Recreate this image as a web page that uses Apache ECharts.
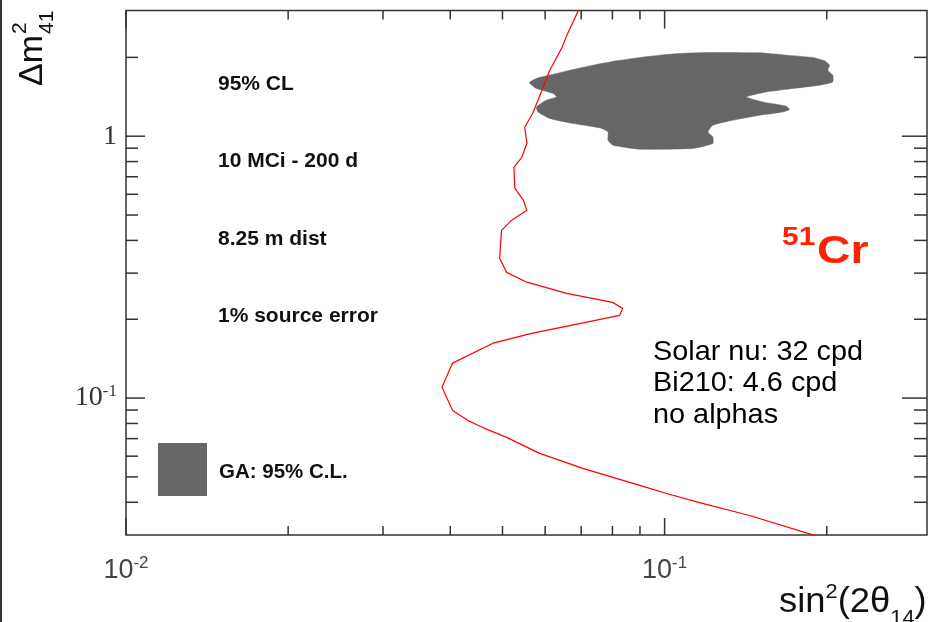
<!DOCTYPE html>
<html><head><meta charset="utf-8">
<script src="https://cdn.jsdelivr.net/npm/echarts@6/dist/echarts.min.js"></script>
<style>html,body{margin:0;padding:0;background:#fff}#c{width:930px;height:622px}</style>
</head><body><div id="c"></div>
<script>
// Axis ranges
const X_MIN = 0.01, X_MAX = 0.307, Y_MIN = 0.03, Y_MAX = 3.02;

// Sensitivity curve (red), sin^2(2theta) vs dm^2
const redCurveX = [0.0692,0.0661,0.0644,0.0612,0.0592,0.0569,0.0550,0.0555,0.0543,0.0525,0.0527,0.0547,0.0555,0.0520,0.0498,0.0494,0.0509,0.0555,0.0658,0.0801,0.0836,0.0825,0.0717,0.0569,0.0480,0.0404,0.0386,0.0404,0.0431,0.0450,0.0473,0.0509,0.0586,0.0705,0.0899,0.1009,0.1161,0.1438,0.1898];
const redCurveY = [3.03,2.475,2.169,1.787,1.499,1.224,1.082,0.940,0.831,0.761,0.633,0.569,0.521,0.478,0.437,0.342,0.302,0.277,0.251,0.232,0.220,0.207,0.195,0.177,0.162,0.136,0.110,0.0897,0.0822,0.0787,0.0753,0.0708,0.0615,0.0539,0.0464,0.0432,0.0399,0.0356,0.0299];

// GA 95% C.L. allowed region outline
const gaRegionX = [0.0562,0.0578,0.0612,0.0667,0.0736,0.0814,0.0899,0.0979,0.1066,0.1195,0.1501,0.1682,0.1884,0.1981,0.2024,0.2009,0.2052,0.2052,0.1940,0.1730,0.1544,0.1418,0.1522,0.1682,0.1706,0.1658,0.1501,0.1339,0.1229,0.1203,0.1229,0.1229,0.1128,0.0899,0.0802,0.0785,0.0785,0.0758,0.0676,0.0612,0.0582,0.0578,0.0603,0.0630,0.0621,0.0578,0.0562];
const gaRegionY = [1.612,1.662,1.711,1.787,1.867,1.940,1.998,2.039,2.070,2.088,2.081,2.039,1.998,1.940,1.867,1.787,1.711,1.612,1.566,1.521,1.476,1.413,1.352,1.302,1.265,1.238,1.203,1.151,1.102,1.038,0.994,0.938,0.898,0.892,0.924,0.965,1.038,1.076,1.118,1.169,1.238,1.294,1.373,1.413,1.456,1.521,1.590];

// Tick values
const xMajorTicks = [0.01, 0.1];
const xMinorTicks = [0.02,0.03,0.04,0.05,0.06,0.07,0.08,0.09,0.2];
const yMajorTicks = [0.1, 1];
const yMinorTicks = [0.04,0.05,0.06,0.07,0.08,0.09,0.2,0.3,0.4,0.5,0.6,0.7,0.8,0.9,2];

// Annotation texts
const infoLines = ['95% CL', '10 MCi - 200 d', '8.25 m dist', '1% source error'];
const bkgLines = ['Solar nu: 32 cpd', 'Bi210: 4.6 cpd', 'no alphas'];
const legendText = 'GA: 95% C.L.';

const ctx2 = document.createElement('canvas').getContext('2d');
function tw(t, size, weight) {
  ctx2.font = (weight || 'normal') + ' ' + size + 'px "Liberation Sans"';
  return ctx2.measureText(t).width;
}
function isDecade(v) { const l = Math.log10(v); return Math.abs(l - Math.round(l)) < 1e-6; }

const chart = echarts.init(document.getElementById('c'), null, {renderer: 'canvas'});

const graphic = [];
graphic.push({type: 'rect', shape: {x: 0, y: 0, width: 2, height: 622}, style: {fill: '#333'}, silent: true});
const infoY = [84, 161, 239, 316];
infoLines.forEach((t, i) => graphic.push({type: 'text', x: 218, y: infoY[i], style: {text: t, fontSize: 21, fontWeight: 'bold', fontFamily: 'Liberation Sans', fill: '#111', align: 'left', verticalAlign: 'middle'}}));
graphic.push({type: 'rect', shape: {x: 158, y: 443, width: 49, height: 53}, style: {fill: '#666666'}});
graphic.push({type: 'text', x: 219, y: 472, style: {text: legendText, fontSize: 20.5, fontWeight: 'bold', fontFamily: 'Liberation Sans', fill: '#111', align: 'left', verticalAlign: 'middle'}});
const bkgY = [352, 383.5, 415];
bkgLines.forEach((t, i) => graphic.push({type: 'text', x: 653, y: bkgY[i], scaleX: 1.03, style: {text: t, fontSize: 28, fontFamily: 'Liberation Sans', fill: '#000', align: 'left', verticalAlign: 'middle'}}));
// 51Cr
graphic.push({type: 'text', x: 782, y: 238, scaleX: 1.15, style: {text: '51', fontSize: 26, fontWeight: 'bold', fontFamily: 'Liberation Sans', fill: '#ff2200', align: 'left', verticalAlign: 'middle'}});
graphic.push({type: 'text', x: 817, y: 253, scaleX: 1.22, style: {text: 'Cr', fontSize: 38, fontWeight: 'bold', fontFamily: 'Liberation Sans', fill: '#ff2200', align: 'left', verticalAlign: 'middle'}});

// x-axis title sin^2(2θ14)
(function () {
  const pieces = [['sin', 35, 602], ['2', 21, 592], ['(2θ', 35, 602], ['14', 21, 618], [')', 35, 602]];
  let x = 779;
  pieces.forEach(p => {
    graphic.push({type: 'text', x: x, y: p[2], scaleX: 1.04, style: {text: p[0], fontSize: p[1], fontFamily: 'Liberation Sans', fill: '#111', align: 'left', verticalAlign: 'middle'}});
    x += tw(p[0], p[1]) * 1.04;
  });
})();
// y-axis title Δm^2_41 (rotated)
(function () {
  const L = tw('Δm', 34);
  graphic.push({type: 'text', x: 33, y: 86, rotation: Math.PI / 2, style: {text: 'Δm', fontSize: 34, fontFamily: 'Liberation Sans', fill: '#111', align: 'left', verticalAlign: 'middle'}});
  graphic.push({type: 'text', x: 20, y: 86 - L - 1, rotation: Math.PI / 2, style: {text: '2', fontSize: 21, fontFamily: 'Liberation Sans', fill: '#111', align: 'left', verticalAlign: 'middle'}});
  graphic.push({type: 'text', x: 47, y: 86 - L - 1, rotation: Math.PI / 2, style: {text: '41', fontSize: 21, fontFamily: 'Liberation Sans', fill: '#111', align: 'left', verticalAlign: 'middle'}});
})();

const TICK = {bottom: [17, 9], top: [18, 9], left: [19, 12], right: [25, 13]};
const tickStyle = {stroke: '#333', lineWidth: 1.5};

const option = {
  animation: false,
  backgroundColor: '#fff',
  grid: {left: 126, right: 2, top: 10.5, bottom: 87, show: true, borderColor: '#333', borderWidth: 1.5, backgroundColor: 'transparent'},
  xAxis: {
    type: 'log', logBase: 10, min: X_MIN, max: X_MAX,
    axisLine: {show: false}, axisTick: {show: false}, splitLine: {show: false},
    axisLabel: {
      margin: 20, showMinLabel: true, showMaxLabel: true,
      fontFamily: 'Liberation Sans', fontSize: 27, color: '#444',
      formatter: v => isDecade(v) ? '{b|10}{s|' + Math.round(Math.log10(v)) + '}' : '',
      rich: {
        b: {fontFamily: 'Liberation Sans', fontSize: 27, color: '#444', lineHeight: 31},
        s: {fontFamily: 'Liberation Sans', fontSize: 17, color: '#444', verticalAlign: 'top', lineHeight: 17}
      }
    }
  },
  yAxis: {
    type: 'log', logBase: 10, min: Y_MIN, max: Y_MAX,
    axisLine: {show: false}, axisTick: {show: false}, splitLine: {show: false},
    axisLabel: {
      margin: 9, showMinLabel: true, showMaxLabel: true,
      fontFamily: 'Liberation Serif', fontSize: 28, color: '#333',
      formatter: v => {
        if (!isDecade(v)) return '';
        const e = Math.round(Math.log10(v));
        return e === 0 ? '{b|1}' : '{b|10}{s|' + e + '}';
      },
      rich: {
        b: {fontFamily: 'Liberation Serif', fontSize: 28, color: '#333', lineHeight: 30},
        s: {fontFamily: 'Liberation Serif', fontSize: 17, color: '#333', verticalAlign: 'top', lineHeight: 17}
      }
    }
  },
  graphic: graphic,
  series: [
    {
      name: 'GA region', type: 'custom', silent: true, z: 2,
      data: gaRegionX.map((x, i) => [x, gaRegionY[i]]),
      renderItem: function (params, api) {
        if (params.dataIndex !== 0) return null;
        const pts = gaRegionX.map((x, i) => api.coord([x, gaRegionY[i]]));
        return {type: 'polygon', shape: {points: pts, smooth: 0.15}, style: {fill: '#666666', stroke: '#666666', lineWidth: 0.5}};
      }
    },
    {
      name: 'Cr51 sensitivity', type: 'line', z: 3, silent: true,
      data: redCurveX.map((x, i) => [x, redCurveY[i]]),
      showSymbol: false, symbol: 'none', smooth: false,
      lineStyle: {color: '#ff0000', width: 1.2}
    },
    {
      name: 'xticks', type: 'custom', silent: true, clip: false, z: 4,
      data: xMajorTicks.map(v => [v, Y_MIN, 1]).concat(xMinorTicks.map(v => [v, Y_MIN, 0])),
      encode: {x: 0, y: 1},
      renderItem: function (params, api) {
        const cs = params.coordSys;
        const px = api.coord([api.value(0), Y_MIN])[0];
        const m = api.value(2) === 1 ? 0 : 1;
        const yb = cs.y + cs.height, yt = cs.y;
        return {type: 'group', children: [
          {type: 'line', shape: {x1: px, y1: yb, x2: px, y2: yb - TICK.bottom[m]}, style: tickStyle},
          {type: 'line', shape: {x1: px, y1: yt, x2: px, y2: yt + TICK.top[m]}, style: tickStyle}
        ]};
      }
    },
    {
      name: 'yticks', type: 'custom', silent: true, clip: false, z: 4,
      data: yMajorTicks.map(v => [X_MIN, v, 1]).concat(yMinorTicks.map(v => [X_MIN, v, 0])),
      encode: {x: 0, y: 1},
      renderItem: function (params, api) {
        const cs = params.coordSys;
        const py = api.coord([X_MIN, api.value(1)])[1];
        const m = api.value(2) === 1 ? 0 : 1;
        const xl = cs.x, xr = cs.x + cs.width;
        return {type: 'group', children: [
          {type: 'line', shape: {x1: xl, y1: py, x2: xl + TICK.left[m], y2: py}, style: tickStyle},
          {type: 'line', shape: {x1: xr, y1: py, x2: xr - TICK.right[m], y2: py}, style: tickStyle}
        ]};
      }
    }
  ]
};
chart.setOption(option);
</script>
</body></html>
